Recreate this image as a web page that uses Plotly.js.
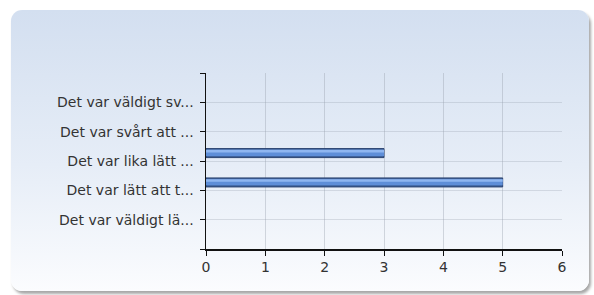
<!DOCTYPE html>
<html>
<head>
<meta charset="utf-8">
<script src="https://cdn.plot.ly/plotly-3.0.1.min.js"></script>
<style>
  html, body { margin: 0; padding: 0; background: #ffffff; width: 594px; height: 295px; overflow: hidden; }
  #panel { position: absolute; left: 11px; top: 10px; width: 578px; height: 281px; border-radius: 11px;
    background: linear-gradient(to bottom, #d3dff0 0%, #e6edf7 55%, #fbfcfe 100%);
    box-shadow: 2px 3px 3px rgba(0,0,0,0.35); }
  #chart { position: absolute; left: 0; top: 0; width: 594px; height: 295px; }
</style>
</head>
<body>
<div id="panel"></div>
<div id="chart"></div>
<script>
// Data (categories listed top to bottom as in the chart)
const categories = [
  "Det var väldigt sv...",
  "Det var svårt att ...",
  "Det var lika lätt ...",
  "Det var lätt att t...",
  "Det var väldigt lä..."
];
const values = [0, 0, 3, 5, 0];
const xTicks = [0, 1, 2, 3, 4, 5, 6];

// positions: top category highest
const pos = categories.map((c, i) => categories.length - 1 - i);
const tickVals = [-1].concat(pos.slice().reverse(), [categories.length]);
const tickText = [""].concat(categories.slice().reverse(), [""]);
const outline = values.map(v => (v > 0 ? 1 : 0));

const base = {
  type: "bar", orientation: "h", x: values, y: pos,
  hoverinfo: "skip", showlegend: false
};
const traces = [
  Object.assign({}, base, { offset: 0.116, width: 0.307,
    marker: { color: "#3f629c", line: { color: "#2c4470", width: outline } } }),
  Object.assign({}, base, { offset: 0.17, width: 0.2,
    marker: { color: "#5e8ed8", line: { width: 0 } } }),
  Object.assign({}, base, { offset: 0.29, width: 0.09,
    marker: { color: "#8fb6f0", line: { width: 0 } } })
];

const fontFam = "DejaVu Sans, Verdana, sans-serif";
const layout = {
  width: 594, height: 295,
  margin: { l: 206, r: 32, t: 73, b: 46, pad: 0 },
  paper_bgcolor: "rgba(0,0,0,0)",
  plot_bgcolor: "rgba(0,0,0,0)",
  barmode: "overlay",
  font: { family: fontFam, size: 14, color: "#333333" },
  xaxis: {
    range: [0, 6], tickvals: xTicks, ticktext: xTicks.map(String),
    showline: true, linecolor: "#111", linewidth: 1.5,
    ticks: "outside", ticklen: 5, tickcolor: "#111", tickwidth: 1,
    showgrid: true, gridcolor: "rgba(150,158,172,0.38)", gridwidth: 1,
    zeroline: false, fixedrange: true,
    tickfont: { family: fontFam, size: 14, color: "#333333" }
  },
  yaxis: {
    range: [-1, categories.length], tickvals: tickVals, ticktext: tickText,
    showline: true, linecolor: "#111", linewidth: 1.5,
    ticks: "outside", ticklen: 5, tickcolor: "#111", tickwidth: 1,
    showgrid: true, gridcolor: "rgba(150,158,172,0.3)", gridwidth: 1,
    zeroline: false, fixedrange: true, ticklabelstandoff: 3,
    tickfont: { family: fontFam, size: 14, color: "#333333" }
  }
};

Plotly.newPlot("chart", traces, layout, { displayModeBar: false, staticPlot: true });
</script>
</body>
</html>
